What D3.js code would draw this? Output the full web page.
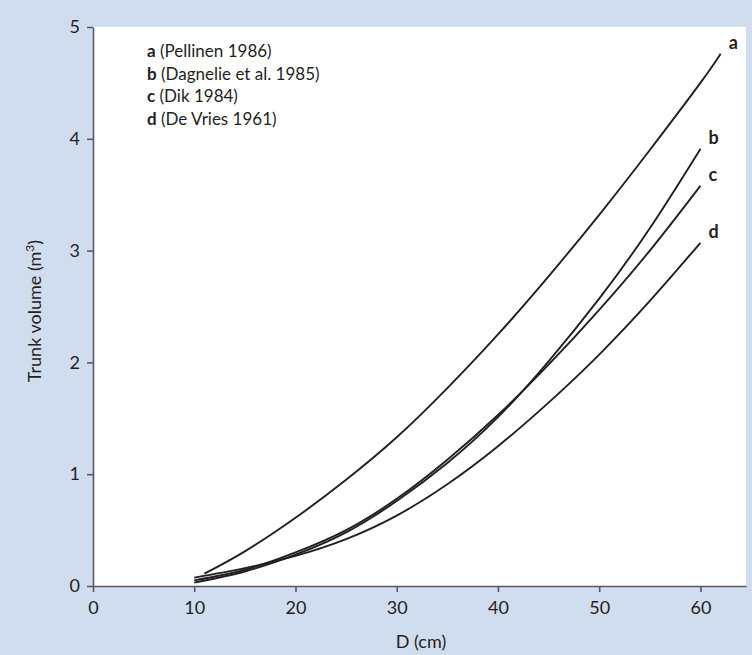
<!DOCTYPE html>
<html><head><meta charset="utf-8">
<script src="https://cdn.jsdelivr.net/npm/d3@7"></script>
<style>
html,body{margin:0;padding:0;background:#d0ddef;}
svg{display:block;}
text{font-family:Lato,"Open Sans",sans-serif;fill:#231f20;}
</style></head>
<body><svg id="c" width="752" height="655"></svg>
<script>
const diamA = [11, 15, 20, 25, 30, 35, 40, 45, 50, 55, 60, 62];
const volA  = [0.11, 0.31, 0.61, 0.95, 1.33, 1.77, 2.25, 2.77, 3.32, 3.90, 4.50, 4.76];
const diam  = [10, 15, 20, 25, 30, 35, 40, 45, 50, 55, 60];
const volB  = [0.03, 0.13, 0.28, 0.48, 0.76, 1.10, 1.51, 2.01, 2.57, 3.20, 3.91];
const volC  = [0.05, 0.145, 0.30, 0.50, 0.78, 1.13, 1.53, 1.98, 2.47, 3.00, 3.58];
const volD  = [0.075, 0.16, 0.27, 0.42, 0.63, 0.91, 1.25, 1.64, 2.07, 2.55, 3.07];
const seriesKeys = ["a", "b", "c", "d"];
const legendRefs = ["(Pellinen 1986)", "(Dagnelie et al. 1985)", "(Dik 1984)", "(De Vries 1961)"];
const xTicks = [0, 10, 20, 30, 40, 50, 60];
const yTicks = [0, 1, 2, 3, 4, 5];

const svg = d3.select("#c");
const pL = 93, pR = 746, pT = 27, pB = 586;
const x = d3.scaleLinear().domain([0, 64.5]).range([pL, pR]);
const y = d3.scaleLinear().domain([0, 5]).range([pB, pT]);

svg.append("rect").attr("x", pL).attr("y", pT).attr("width", pR - pL).attr("height", pB - pT).attr("fill", "#ffffff");

const series = [
  {k: "a", xs: diamA, ys: volA},
  {k: "b", xs: diam, ys: volB},
  {k: "c", xs: diam, ys: volC},
  {k: "d", xs: diam, ys: volD}
];
const line = d3.line().x(d => x(d[0])).y(d => y(d[1])).curve(d3.curveNatural);
series.forEach(s => {
  const pts = s.xs.map((v, i) => [v, s.ys[i]]);
  svg.append("path").attr("d", line(pts)).attr("fill", "none")
    .attr("stroke", "#231f20").attr("stroke-width", 1.9);
  const last = pts[pts.length - 1];
  svg.append("text").attr("x", x(last[0]) + 8).attr("y", y(last[1]) - 5)
    .attr("font-size", 18).attr("font-weight", "bold").text(s.k);
});

// axes
const xAxis = svg.append("g").attr("transform", `translate(0,${pB})`)
  .call(d3.axisBottom(x).tickValues(xTicks).tickFormat(d3.format("d")).tickSize(6).tickPadding(9).tickSizeOuter(0));
const yAxis = svg.append("g").attr("transform", `translate(${pL},0)`)
  .call(d3.axisLeft(y).tickValues(yTicks).tickFormat(d3.format("d")).tickSize(6).tickPadding(7).tickSizeOuter(0));
[xAxis, yAxis].forEach(g => {
  g.select(".domain").attr("stroke", "#58595b").attr("stroke-width", 1.6);
  g.selectAll(".tick line").attr("stroke", "#58595b").attr("stroke-width", 1.6);
  g.selectAll(".tick text").attr("font-size", 18).attr("font-family", "Lato, 'Open Sans', sans-serif").attr("fill", "#231f20");
});

svg.append("text").attr("x", 421).attr("y", 648).attr("text-anchor", "middle")
  .attr("font-size", 18).text("D (cm)");
const yt = svg.append("text").attr("transform", "translate(41,311) rotate(-90)")
  .attr("text-anchor", "middle").attr("font-size", 18);
yt.append("tspan").text("Trunk volume (m");
yt.append("tspan").attr("font-size", 12).attr("dy", -7).text("3");
yt.append("tspan").attr("dy", 7).text(")");

// legend
seriesKeys.forEach((k, i) => {
  const t = svg.append("text").attr("x", 147).attr("y", 57 + i * 22.5).attr("font-size", 17);
  t.append("tspan").attr("font-weight", "bold").text(k);
  t.append("tspan").text(" " + legendRefs[i]);
});
</script></body></html>
